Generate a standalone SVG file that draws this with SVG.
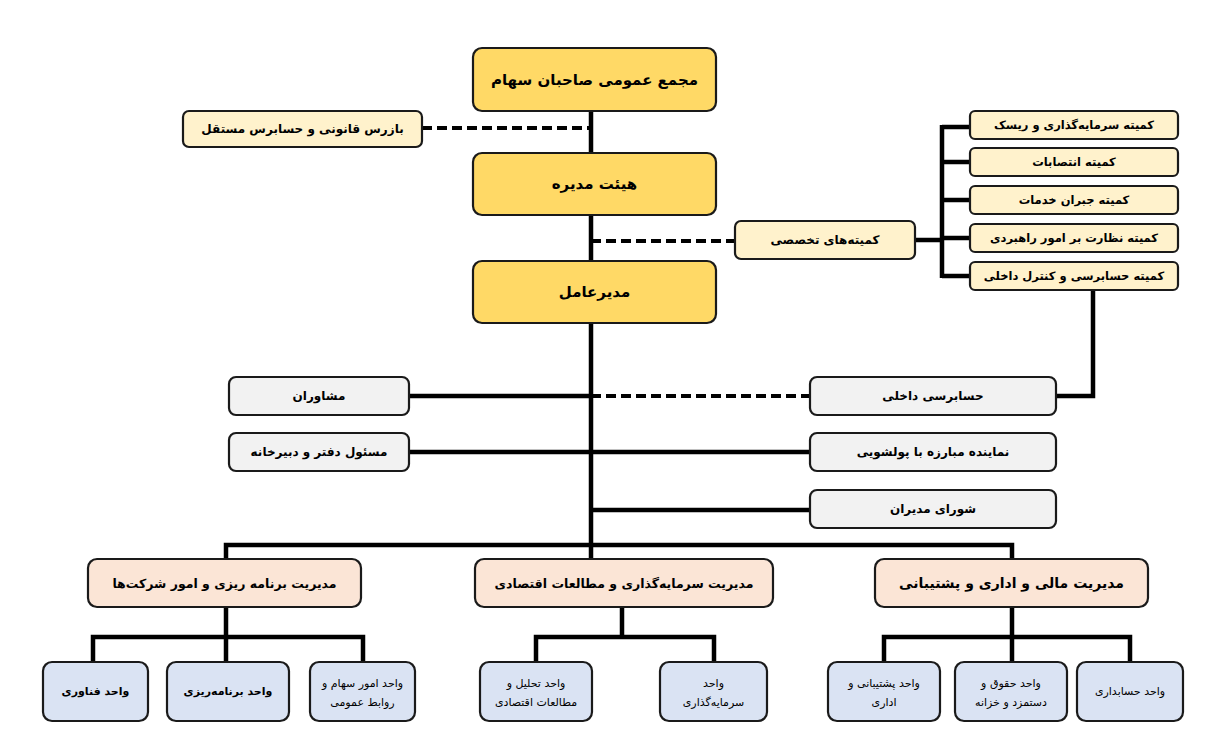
<svg xmlns="http://www.w3.org/2000/svg" width="1214" height="749" viewBox="0 0 1214 749">
<style>
.b{stroke:#1a1a1a;stroke-width:2.2}
.y{fill:#FFD966}.c{fill:#FFF2CC}.g{fill:#F2F2F2}.p{fill:#FBE5D6}.u{fill:#DAE3F3}
.ln{fill:none;stroke:#000;stroke-width:4.5}
.ds{fill:none;stroke:#000;stroke-width:4;stroke-dasharray:10 5}
text{font-family:"DejaVu Sans","Noto Sans",sans-serif;text-anchor:middle;dominant-baseline:central;fill:#000;direction:rtl}
.t1{font-size:15px;font-weight:bold}
.t2{font-size:12px;font-weight:bold}
.t3{font-size:11.5px;font-weight:bold}
.t4{font-size:14px;font-weight:bold}
.t4s{font-size:12.5px;font-weight:bold}
.t5{font-size:11px}
</style>
<rect width="1214" height="749" fill="#fff"/>
<g id="connectors">
<path class="ln" d="M591 111V545"/>
<path class="ds" d="M422 128H591"/>
<path class="ds" d="M591 241H736"/>
<path class="ln" d="M915 240H942M942 125V278M942 127H970M942 162H970M942 200H970M942 238H970M942 276H970"/>
<path class="ln" d="M1093 290V396H1056"/>
<path class="ln" d="M409 396H591"/>
<path class="ds" d="M591 396H810"/>
<path class="ln" d="M409 452H810"/>
<path class="ln" d="M591 510H810"/>
<path class="ln" d="M226 559V545H1012V559M591 545V559"/>
<path class="ln" d="M226 607V637M93 662V637H363V662M226 637V662"/>
<path class="ln" d="M622 607V637M536 662V637H714V662"/>
<path class="ln" d="M1012 607V637M884 662V637H1130V662M1012 637V662"/>
</g>
<g id="n_majma"><rect class="b y" x="473" y="48" width="243" height="63" rx="9"/><text class="t1" x="594.5" y="79.5">مجمع عمومی صاحبان سهام</text></g>
<g id="n_bazras"><rect class="b c" x="183" y="111" width="239" height="36" rx="6"/><text class="t2" x="302.5" y="129">بازرس قانونی و حسابرس مستقل</text></g>
<g id="n_hey"><rect class="b y" x="473" y="153" width="243" height="62" rx="9"/><text class="t1" x="594.5" y="184">هیئت مدیره</text></g>
<g id="n_komite"><rect class="b c" x="735" y="221" width="180" height="38" rx="6"/><text class="t2" x="825" y="240">کمیته‌های تخصصی</text></g>
<g id="n_k1"><rect class="b c" x="970" y="111" width="208" height="28" rx="5"/><text class="t3" x="1074" y="125">کمیته سرمایه‌گذاری و ریسک</text></g>
<g id="n_k2"><rect class="b c" x="970" y="148" width="208" height="28" rx="5"/><text class="t3" x="1074" y="162">کمیته انتصابات</text></g>
<g id="n_k3"><rect class="b c" x="970" y="186" width="208" height="28" rx="5"/><text class="t3" x="1074" y="200">کمیته جبران خدمات</text></g>
<g id="n_k4"><rect class="b c" x="970" y="224" width="208" height="28" rx="5"/><text class="t3" x="1074" y="238">کمیته نظارت بر امور راهبردی</text></g>
<g id="n_k5"><rect class="b c" x="970" y="262" width="208" height="28" rx="5"/><text class="t3" x="1074" y="276">کمیته حسابرسی و کنترل داخلی</text></g>
<g id="n_modir"><rect class="b y" x="473" y="261" width="243" height="62" rx="9"/><text class="t1" x="594.5" y="292">مدیرعامل</text></g>
<g id="n_moshaveran"><rect class="b g" x="229" y="377" width="180" height="38" rx="7"/><text class="t2" x="319" y="396">مشاوران</text></g>
<g id="n_hesabrasi"><rect class="b g" x="810" y="377" width="246" height="38" rx="7"/><text class="t2" x="933" y="396">حسابرسی داخلی</text></g>
<g id="n_masool"><rect class="b g" x="229" y="433" width="180" height="38" rx="7"/><text class="t2" x="319" y="452">مسئول دفتر و دبیرخانه</text></g>
<g id="n_namayande"><rect class="b g" x="810" y="433" width="246" height="38" rx="7"/><text class="t2" x="933" y="452">نماینده مبارزه با پولشویی</text></g>
<g id="n_shora"><rect class="b g" x="810" y="490" width="246" height="38" rx="7"/><text class="t2" x="933" y="509">شورای مدیران</text></g>
<g id="n_m1"><rect class="b p" x="88" y="559" width="273" height="48" rx="9"/><text class="t4s" x="224.5" y="583">مدیریت برنامه ریزی و امور شرکت‌ها</text></g>
<g id="n_m2"><rect class="b p" x="475" y="559" width="298" height="48" rx="9"/><text class="t4s" x="624" y="583">مدیریت سرمایه‌گذاری و مطالعات اقتصادی</text></g>
<g id="n_m3"><rect class="b p" x="875" y="559" width="273" height="48" rx="9"/><text class="t4" x="1011.5" y="583">مدیریت مالی و اداری و پشتیبانی</text></g>
<g id="n_u1"><rect class="b u" x="43" y="662" width="105" height="59" rx="9"/><text class="t5" x="95.5" y="691.5" font-weight="bold">واحد فناوری</text></g>
<g id="n_u2"><rect class="b u" x="167" y="662" width="122" height="59" rx="9"/><text class="t5" x="228" y="691.5" font-weight="bold">واحد برنامه‌ریزی</text></g>
<g id="n_u3"><rect class="b u" x="310" y="662" width="105" height="59" rx="9"/><text class="t5" x="362.5" y="683">واحد امور سهام و</text><text class="t5" x="362.5" y="702">روابط عمومی</text></g>
<g id="n_u4"><rect class="b u" x="480" y="662" width="112" height="59" rx="9"/><text class="t5" x="536" y="683">واحد تحلیل و</text><text class="t5" x="536" y="702">مطالعات اقتصادی</text></g>
<g id="n_u5"><rect class="b u" x="660" y="662" width="107" height="59" rx="9"/><text class="t5" x="713.5" y="683">واحد</text><text class="t5" x="713.5" y="702">سرمایه‌گذاری</text></g>
<g id="n_u6"><rect class="b u" x="828" y="662" width="112" height="59" rx="9"/><text class="t5" x="884" y="683">واحد پشتیبانی و</text><text class="t5" x="884" y="702">اداری</text></g>
<g id="n_u7"><rect class="b u" x="955" y="662" width="112" height="59" rx="9"/><text class="t5" x="1011" y="683">واحد حقوق و</text><text class="t5" x="1011" y="702">دستمزد و خزانه</text></g>
<g id="n_u8"><rect class="b u" x="1077" y="662" width="106" height="59" rx="9"/><text class="t5" x="1130" y="691.5">واحد حسابداری</text></g>
</svg>
